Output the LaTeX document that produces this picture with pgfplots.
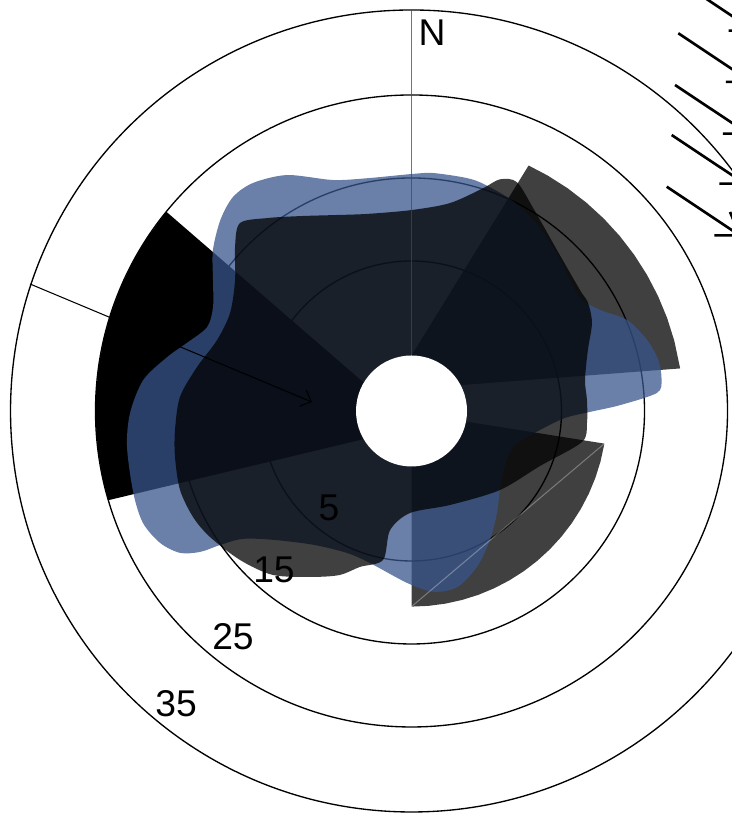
\documentclass[border=0pt]{standalone}
\usepackage{fontspec}
\setmainfont{Liberation Sans}
\usepackage{pgfplots}
\pgfplotsset{compat=1.18}
\usepackage{pgfplotstable}
\usetikzlibrary{arrows.meta}
\definecolor{roseblue}{RGB}{56,85,139}
\definecolor{spokegray}{RGB}{70,70,70}
\newcommand{\Roff}{13.07}

% bars (bearing in degrees clockwise from N, value)
\pgfplotstableread{
b v
355.7 -7.10
25.5 19.7
30 19.7
35 19.7
40 19.7
45 19.7
50 19.7
55 19.7
60 19.7
65 19.7
70 19.7
75 19.7
81 19.7
58.6 -7.22
}\barNE
\pgfplotstableread{
b v
101.5 -7.65
99.6 10.5
105 10.5
110 10.5
115 10.5
120 10.5
125 10.5
130 10.5
135 10.5
140 10.5
145 10.5
150 10.5
155 10.5
160 10.5
165 10.5
170 10.5
175 10.5
180 10.5
180 -7.65
}\barSE
\pgfplotstableread{
b v
237.4 -7.10
253.6 25.0
258 25.0
263 25.0
268 25.0
273 25.0
278 25.0
283 25.0
288 25.0
293 25.0
298 25.0
303 25.0
309.1 25.0
298.7 -7.45
}\barW
\pgfplotstableread{
b v
99.6 10.5
180 10.5
}\seam
% smooth areas
\pgfplotstableread{
b v
0 15.48
5.2 15.72
13.4 15.78
18 15.6
26 15.0
34.9 13.92
44.5 12.47
55.9 11.39
61.8 12.71
67.1 15.12
73.2 16.57
78.3 17.29
82.9 17.29
85.8 16.57
88.4 12.06
90.3 8.43
92.6 5.45
98.4 2.59
108.2 0.06
120 -0.06
131.8 1.22
140 2.95
148.7 5.12
157.2 7.29
165.5 8.86
173.2 8.86
181.5 7.65
195.3 5.92
204.4 5.72
216.3 6.93
227 9.70
232.8 12.42
235 15.08
236.3 17.53
238.5 19.65
242.3 21.14
247.4 21.99
253.6 21.87
262.8 21.48
269.6 20.84
276.6 19.46
282.5 17.05
286.9 15.19
292.3 13.55
297.6 13.92
303.4 15.58
309 17.72
315.1 19.52
320.2 20.51
325.2 20.39
332.2 19.07
341.2 16.33
349.2 15.48
}\bluearea
\pgfplotstableread{
b v
0 11.14
10.5 12.41
17.8 15.12
20.9 16.81
24.7 17.29
30.8 15.48
42.1 13.07
54.3 11.92
58.5 11.87
64 11.12
70.9 9.42
79.9 8.16
86.4 8.11
93.9 8.12
100.3 7.81
113.2 3.77
131.8 1.22
157.7 -0.83
180.8 -0.78
190.2 1.51
190.8 5.20
198.3 6.72
203.6 8.49
210.7 10.18
220.2 12.80
229 14.30
238 15.57
244.1 16.19
251.2 16.40
259 15.96
265.4 15.52
273.5 14.88
281.6 13.31
290 11.87
298.4 11.78
306.6 13.41
312.9 15.96
317.6 17.59
323.2 15.96
330.2 13.99
338.2 12.35
347.3 11.27
}\darkarea
\pgfplotstableread{
x y u v
32.47 51.69 9.04 -6.02
32.14 45.51 9.04 -6.02
31.75 39.28 9.04 -6.02
31.35 33.25 9.04 -6.02
30.75 27.02 9.04 -6.02
}\quivers

\begin{document}
\begin{tikzpicture}
\path[use as bounding box] (0,0) rectangle (7.32cm,8.16cm);
\clip (0,0) rectangle (7.32cm,8.16cm);
\begin{axis}[at={(0,0)}, anchor=south west, scale only axis,
  width=7.32cm, height=8.16cm,
  xmin=-49.58, xmax=38.61, ymin=-48.80, ymax=49.52,
  hide axis, clip=true]
% grid circles
\draw[black, line width=0.38pt] (axis cs:0,0) circle[radius=1.50cm];
\draw[black, line width=0.38pt] (axis cs:0,0) circle[radius=2.33cm];
\draw[black, line width=0.38pt] (axis cs:0,0) circle[radius=3.16cm];
\draw[black, line width=0.38pt] (axis cs:0,0) circle[radius=4.01cm];
% bars
\addplot[draw=none, fill=black, fill opacity=0.75, mark=none]
  table[x expr={(\thisrow{v}+\Roff)*sin(\thisrow{b})}, y expr={(\thisrow{v}+\Roff)*cos(\thisrow{b})}] {\barNE} -- cycle;
\addplot[draw=none, fill=black, fill opacity=0.75, mark=none]
  table[x expr={(\thisrow{v}+\Roff)*sin(\thisrow{b})}, y expr={(\thisrow{v}+\Roff)*cos(\thisrow{b})}] {\barSE} -- cycle;
\addplot[draw=none, fill=black, mark=none]
  table[x expr={(\thisrow{v}+\Roff)*sin(\thisrow{b})}, y expr={(\thisrow{v}+\Roff)*cos(\thisrow{b})}] {\barW} -- cycle;
% smooth areas
\addplot[draw=none, fill=roseblue, fill opacity=0.75, mark=none, smooth cycle]
  table[x expr={(\thisrow{v}+\Roff)*sin(\thisrow{b})}, y expr={(\thisrow{v}+\Roff)*cos(\thisrow{b})}] {\bluearea};
\addplot[draw=none, fill=black, fill opacity=0.75, mark=none, smooth cycle]
  table[x expr={(\thisrow{v}+\Roff)*sin(\thisrow{b})}, y expr={(\thisrow{v}+\Roff)*cos(\thisrow{b})}] {\darkarea};
\addplot[white, opacity=0.3, line width=0.3pt, mark=none]
  table[x expr={(\thisrow{v}+\Roff)*sin(\thisrow{b})}, y expr={(\thisrow{v}+\Roff)*cos(\thisrow{b})}] {\seam};
% hole
\fill[white] (axis cs:0,0) circle[radius=0.555cm];
% spoke and annotation arrow
\addplot[spokegray, opacity=0.75, line width=0.5pt, mark=none] coordinates {(0,6.69) (0,48.3)};
\addplot[black, line width=0.3pt, mark=none, -{Straight Barb[length=2.6pt,width=5pt]}] coordinates {(-45.96,15.30) (-11.99,1.08)};
% quiver arrows
\addplot[black, line width=0.75pt, mark=none, -{Straight Barb[length=6pt,width=8pt]},
  quiver={u=\thisrow{u}, v=\thisrow{v}}] table {\quivers};
% labels
\node[font=\fontsize{10.6}{12}\selectfont] at (axis cs:2.47,45.54) {N};
\node[font=\fontsize{10.6}{12}\selectfont] at (axis cs:-9.94,-11.69) {5};
\node[font=\fontsize{10.6}{12}\selectfont] at (axis cs:-16.57,-19.16) {15};
\node[font=\fontsize{10.6}{12}\selectfont] at (axis cs:-21.51,-27.23) {25};
\node[font=\fontsize{10.6}{12}\selectfont] at (axis cs:-28.37,-35.30) {35};
\end{axis}
\end{tikzpicture}
\end{document}
